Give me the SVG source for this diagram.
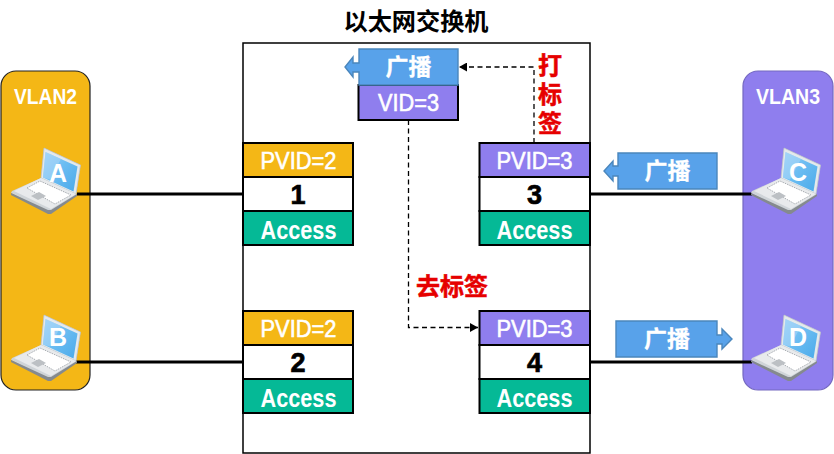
<svg xmlns="http://www.w3.org/2000/svg" width="834" height="454" viewBox="0 0 834 454">
  <style>
    text { font-family: "Liberation Sans", "Noto Sans CJK SC", sans-serif; text-anchor: middle; }
    .title { font-size: 24px; font-weight: 700; fill: #000; }
    .wt { font-size: 24px; fill: #fff; font-weight: 400; stroke: #fff; stroke-width: .6; }
    .bold { font-size: 25px; fill: #fff; font-weight: 700; }
    .call-t { font-size: 23px; fill: #fff; font-weight: 700; stroke: #fff; stroke-width: .3; }
    .num { font-size: 27px; fill: #000; font-weight: 700; stroke: #000; stroke-width: .7; }
    .vlan { font-size: 22px; fill: #fff; font-weight: 700; }
    .red { font-size: 24px; fill: #e60000; font-weight: 700; stroke: #e60000; stroke-width: .5; }
    .host { font-size: 25px; fill: #fff; font-weight: 700; }
    .box { stroke: #000; stroke-width: 2; }
    .yellow { fill: #f4b716; }
    .purple { fill: #8f7eee; }
    .green { fill: #05b996; }
    .white { fill: #fff; }
    .link { stroke: #000; stroke-width: 3.2; fill: none; }
    .dash { stroke: #000; stroke-width: 1.3; stroke-dasharray: 5 3.5; fill: none; }
    .call { fill: #58a2ea; stroke: #4a86bc; stroke-width: 1.4; }
  </style>
  <defs>
    <marker id="tip" markerUnits="userSpaceOnUse" markerWidth="9" markerHeight="9" refX="8" refY="4.5" orient="auto">
      <path d="M0 0L8 4.500L0 9Z" fill="#000"/>
    </marker>
    <linearGradient id="scr" x1="0" y1="0" x2="1" y2="1">
      <stop offset="0" stop-color="#9fd2f7"/>
      <stop offset=".45" stop-color="#6cbdf2"/>
      <stop offset="1" stop-color="#4aaaea"/>
    </linearGradient>
    <!-- Laptop icon shared by the four hosts -->
    <g id="laptop">
      <path d="M33 0L69.500 17L65 46L66 47L40 64L37 64L0 45L1 43L30 30Z" fill="#cfd4d8"/>
      <path d="M33 0L69.500 17L65 46L30 30Z" fill="#e4e9ec" stroke="#b8c0c6" stroke-width=".7"/>
      <path d="M34.500 4L66.500 18.500L62.500 43.500L32 29.500Z" fill="url(#scr)"/>
      <path d="M34.500 4L50 11L39 31.500L32 29.500Z" fill="#a6d6f8" opacity=".6"/>
      <path d="M30 30L65 46L40 61L3 43Z" fill="#e8eaec"/>
      <path d="M16 40L29 33L60 47L44 56Z" fill="#fff" stroke="#a0a5aa" stroke-width=".9" stroke-dasharray="1.500 1"/>
      <path d="M20 48L28 44L35 48L27 52Z" fill="#bcc0c4"/>
      <path d="M0 45L37 62L40 62L66 46L66 48L40 66L37 66L0 47Z" fill="#858a8e"/>
    </g>
  </defs>

  <text class="title" x="416" y="30" textLength="145" lengthAdjust="spacingAndGlyphs">以太网交换机</text>
  <rect id="switch" x="243" y="43" width="347" height="410" fill="#fff" stroke="#000" stroke-width="1.5"/>

  <g id="vlan2">
    <rect x="1" y="71" width="89" height="319" rx="15" class="yellow" stroke="#222" stroke-width="1.2"/>
    <text class="vlan" x="45.500" y="104" textLength="63" lengthAdjust="spacingAndGlyphs">VLAN2</text>
  </g>
  <g id="vlan3">
    <rect x="743" y="71" width="90" height="319" rx="15" class="purple" stroke="#7468c0" stroke-width="1.2"/>
    <text class="vlan" x="788" y="104" textLength="64" lengthAdjust="spacingAndGlyphs">VLAN3</text>
  </g>

  <g id="connectors">
    <path class="link" d="M77 194H243"/>
    <path class="link" d="M76 362H243"/>
    <path class="link" d="M590 194H752"/>
    <path class="link" d="M590 362H752"/>
    <path class="dash" d="M534 143V67H459" marker-end="url(#tip)"/>
    <path class="dash" d="M408.500 120V327.500H478" marker-end="url(#tip)"/>
  </g>

  <g id="host-a"><use href="#laptop" x="11" y="148"/><text class="host" x="58" y="182">A</text></g>
  <g id="host-b"><use href="#laptop" x="11" y="315"/><text class="host" x="58" y="346">B</text></g>
  <g id="host-c"><use href="#laptop" x="751" y="148"/><text class="host" x="798" y="181">C</text></g>
  <g id="host-d"><use href="#laptop" x="751" y="315"/><text class="host" x="798" y="346">D</text></g>

  <g id="port-1">
    <rect class="box yellow" x="243" y="143" width="110" height="34"/>
    <rect class="box white" x="243" y="177" width="110" height="34"/>
    <rect class="box green" x="243" y="211" width="110" height="34"/>
    <text class="wt" x="298.500" y="169" textLength="76" lengthAdjust="spacingAndGlyphs">PVID=2</text>
    <text class="num" x="298" y="204">1</text>
    <text class="bold" x="298.500" y="239" textLength="76" lengthAdjust="spacingAndGlyphs">Access</text>
  </g>
  <g id="port-2">
    <rect class="box yellow" x="243" y="311" width="110" height="34"/>
    <rect class="box white" x="243" y="345" width="110" height="34"/>
    <rect class="box green" x="243" y="379" width="110" height="34"/>
    <text class="wt" x="298.500" y="337" textLength="76" lengthAdjust="spacingAndGlyphs">PVID=2</text>
    <text class="num" x="298" y="372">2</text>
    <text class="bold" x="298.500" y="407" textLength="76" lengthAdjust="spacingAndGlyphs">Access</text>
  </g>
  <g id="port-3">
    <rect class="box purple" x="479.500" y="143" width="110.500" height="34"/>
    <rect class="box white" x="479.500" y="177" width="110.500" height="34"/>
    <rect class="box green" x="479.500" y="211" width="110.500" height="34"/>
    <text class="wt" x="534.500" y="169" textLength="76" lengthAdjust="spacingAndGlyphs">PVID=3</text>
    <text class="num" x="534.500" y="204">3</text>
    <text class="bold" x="534.500" y="239" textLength="76" lengthAdjust="spacingAndGlyphs">Access</text>
  </g>
  <g id="port-4">
    <rect class="box purple" x="479.500" y="311" width="110.500" height="34"/>
    <rect class="box white" x="479.500" y="345" width="110.500" height="34"/>
    <rect class="box green" x="479.500" y="379" width="110.500" height="34"/>
    <text class="wt" x="534.500" y="337" textLength="76" lengthAdjust="spacingAndGlyphs">PVID=3</text>
    <text class="num" x="534.500" y="372">4</text>
    <text class="bold" x="534.500" y="407" textLength="76" lengthAdjust="spacingAndGlyphs">Access</text>
  </g>

  <g id="vid-tag">
    <rect class="box purple" x="358.500" y="85" width="99.500" height="35"/>
    <text class="wt" x="408.500" y="111" textLength="61" lengthAdjust="spacingAndGlyphs">VID=3</text>
  </g>
  <g id="frame-inner">
    <path class="call" d="M359 49H458V85H359V72H353V77L345 67L353 57V63H359Z"/>
    <text class="call-t" x="408.500" y="75">广播</text>
  </g>
  <g id="frame-c">
    <path class="call" d="M618 153H717V189H618V176H613V181L604 171L613 161V166H618Z"/>
    <text class="call-t" x="667.500" y="179">广播</text>
  </g>
  <g id="frame-d">
    <path class="call" d="M616 321H717V335H722V329L732 339L722 349V344H717V357H616Z"/>
    <text class="call-t" x="667" y="347">广播</text>
  </g>

  <g id="labels">
    <text class="red" x="550" y="74">打</text>
    <text class="red" x="550" y="103">标</text>
    <text class="red" x="550" y="132">签</text>
    <text class="red" x="452" y="295">去标签</text>
  </g>
</svg>
